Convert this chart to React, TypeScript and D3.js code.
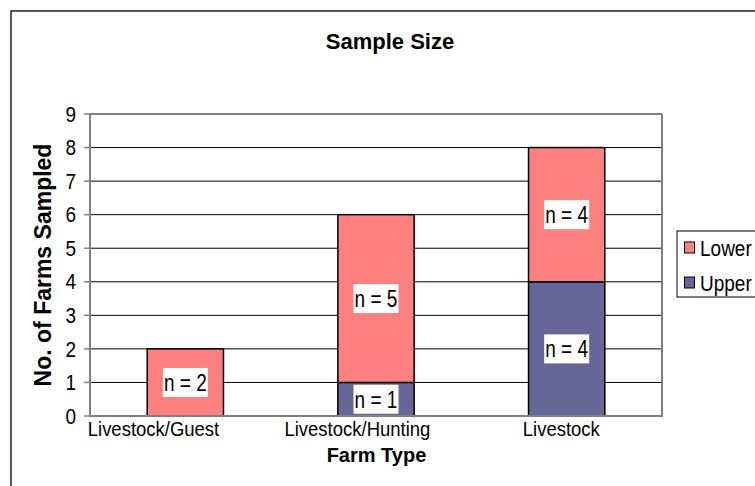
import React from "react";
import * as d3 from "d3";

const categories = ["Livestock/Guest", "Livestock/Hunting", "Livestock"];
const upperValues = [0, 1, 4];
const lowerValues = [2, 5, 4];
const seriesNames = ["Upper", "Lower"];
const seriesColors = ["#666699", "#FF8080"];
const yTicks = [0, 1, 2, 3, 4, 5, 6, 7, 8, 9];

const W = 755;
const H = 486;
const FONT = "'Liberation Sans', Arial, sans-serif";

function SText({ x, y, sy = 1, children, ...rest }: any) {
  return (
    <g transform={`translate(${x},${y}) scale(1,${sy})`}>
      <text x={0} y={0} {...rest}>
        {children}
      </text>
    </g>
  );
}

export default function App() {
  const plot = { left: 90, right: 662, top: 114, bottom: 416 };
  const x = d3
    .scaleBand<string>()
    .domain(categories)
    .range([plot.left, plot.right])
    .paddingInner(0.6)
    .paddingOuter(0.3);
  const xLabel = d3
    .scalePoint<string>()
    .domain(categories)
    .range([153.5, 561.3]);
  const y = d3.scaleLinear().domain([0, 9]).range([plot.bottom, plot.top]);

  const rows = categories.map((c, i) => ({
    cat: c,
    Upper: upperValues[i],
    Lower: lowerValues[i],
  }));
  const stack = d3.stack<any>().keys(seriesNames)(rows);

  const bw = x.bandwidth();

  return (
    <svg
      width={W}
      height={H}
      style={{ position: "absolute", left: 0, top: 0, background: "#fff" }}
      fontFamily={FONT}
    >
      <rect x={0} y={0} width={W} height={H} fill="#fff" />
      <rect x={11} y={11} width={900} height={700} fill="#fff" stroke="#000" strokeWidth={1.3} />
      <text x={390} y={49} textAnchor="middle" fontSize={22} fontWeight="bold">
        Sample Size
      </text>

      {/* gridlines */}
      {yTicks
        .filter((t) => t > 0 && t < 9)
        .map((t) => (
          <line key={t} x1={plot.left} x2={plot.right} y1={y(t)} y2={y(t)} stroke="#000" strokeWidth={1} />
        ))}
      {/* plot border */}
      <line x1={plot.left} x2={plot.right} y1={y(9)} y2={y(9)} stroke="#808080" strokeWidth={2} />
      <line x1={plot.right} x2={plot.right} y1={y(9)} y2={y(0)} stroke="#808080" strokeWidth={2} />

      {/* bars */}
      {stack.map((s, si) =>
        s.map((d, i) => {
          if (d[1] - d[0] <= 0) return null;
          const bx = x(categories[i])!;
          return (
            <rect
              key={si + "-" + i}
              x={bx}
              y={y(d[1])}
              width={bw}
              height={y(d[0]) - y(d[1])}
              fill={seriesColors[si]}
              stroke="#000"
              strokeWidth={1.5}
            />
          );
        })
      )}

      {/* labels */}
      {stack.map((s, si) =>
        s.map((d, i) => {
          const v = d[1] - d[0];
          if (v <= 0) return null;
          const cx = x(categories[i])! + bw / 2;
          const cy = y((d[0] + d[1]) / 2);
          return (
            <g key={"l" + si + "-" + i}>
              <rect x={cx - 22.5} y={cy - 14.5} width={45} height={29} fill="#fff" />
              <SText x={cx} y={cy} sy={1.22} dy="0.36em" textAnchor="middle" fontSize={19}>
                {"n = " + v}
              </SText>
            </g>
          );
        })
      )}

      {/* axes */}
      <line x1={plot.left} x2={plot.left} y1={y(9)} y2={y(0)} stroke="#808080" strokeWidth={2} />
      <line x1={plot.left - 1} x2={plot.right + 1} y1={y(0)} y2={y(0)} stroke="#808080" strokeWidth={2} />
      {yTicks.map((t) => (
        <g key={"t" + t}>
          <line x1={plot.left - 6} x2={plot.left} y1={y(t)} y2={y(t)} stroke="#808080" strokeWidth={1.5} />
          <SText x={76} y={y(t)} sy={1.12} dy="0.36em" textAnchor="end" fontSize={19}>
            {t}
          </SText>
        </g>
      ))}
      {categories.map((c) => (
        <SText key={c} x={xLabel(c)} y={436} sy={1.05} textAnchor="middle" fontSize={18.5}>
          {c}
        </SText>
      ))}
      <text x={376.5} y={462} textAnchor="middle" fontSize={20} fontWeight="bold">
        Farm Type
      </text>
      <text
        transform={`translate(51, ${(plot.top + plot.bottom) / 2}) rotate(-90)`}
        textAnchor="middle"
        fontSize={23}
        fontWeight="bold"
      >
        No. of Farms Sampled
      </text>

      {/* legend */}
      <rect x={677} y={231} width={200} height={66} fill="#fff" stroke="#000" strokeWidth={1} />
      {[1, 0].map((si, k) => (
        <g key={"lg" + si}>
          <rect x={684.5} y={242 + k * 35} width={10} height={11} fill={seriesColors[si]} stroke="#000" strokeWidth={1} />
          <SText x={700} y={248 + k * 35} sy={1.15} dy="0.36em" fontSize={19}>
            {seriesNames[si]}
          </SText>
        </g>
      ))}
    </svg>
  );
}
